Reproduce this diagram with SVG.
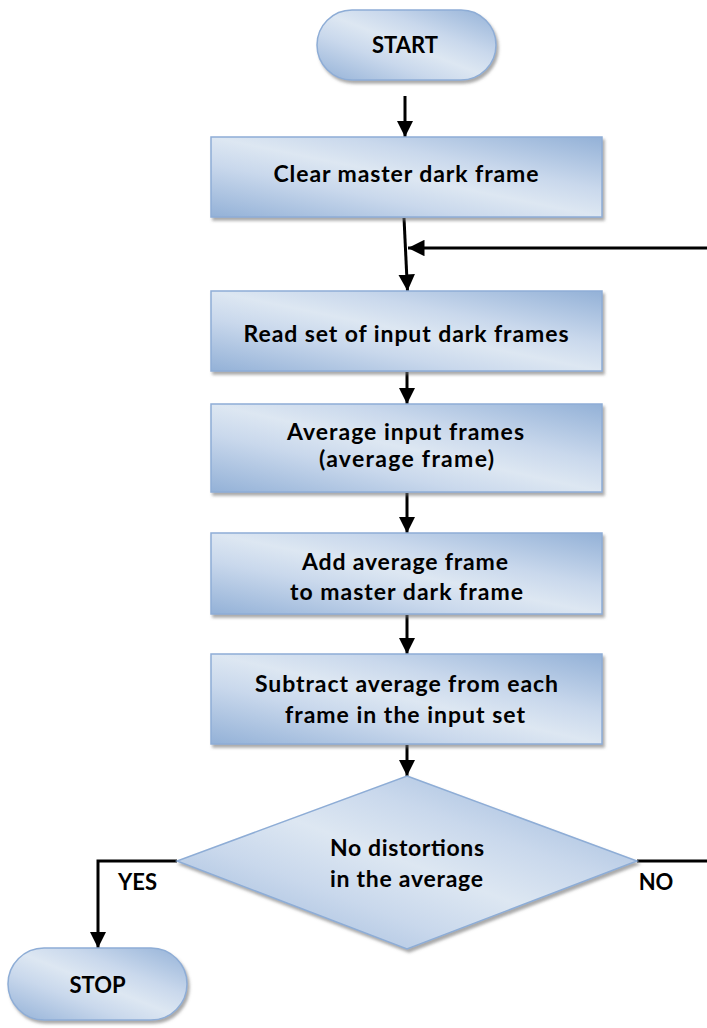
<svg xmlns="http://www.w3.org/2000/svg" width="707" height="1028" viewBox="0 0 707 1028">
<style>
.shape{stroke:#8eadd6;stroke-width:1.5;fill:url(#g);filter:url(#sh)}
.t{font-family:Lato,"Liberation Sans",sans-serif;font-weight:bold;font-size:23px;fill:#000;text-anchor:middle}
.s{font-size:22px}
.c{stroke:#000;stroke-width:3;fill:none}
.ca{stroke:#000;stroke-width:3;fill:none;marker-end:url(#ah)}
</style>
<defs>
<linearGradient id="g" x1="1" y1="0" x2="0" y2="1">
<stop offset="0" stop-color="#93b1d7"/>
<stop offset="0.33" stop-color="#c9d8ec"/>
<stop offset="0.5" stop-color="#dde7f2"/>
<stop offset="0.67" stop-color="#c9d8ec"/>
<stop offset="1" stop-color="#93b1d7"/>
</linearGradient>
<filter id="sh" x="-10%" y="-10%" width="120%" height="130%">
<feDropShadow dx="2" dy="3" stdDeviation="1.5" flood-color="#6f6f6f" flood-opacity="0.6"/>
</filter>
<marker id="ah" viewBox="0 0 10 10" refX="10" refY="5" markerWidth="5.5" markerHeight="5.5" orient="auto" markerUnits="strokeWidth">
<path d="M0,0 L10,5 L0,10 Z" fill="#000"/>
</marker>
</defs>
<g id="connectors">
<line class="ca" x1="405" y1="96" x2="405" y2="137"/>
<line class="ca" x1="404" y1="218" x2="407.5" y2="291"/>
<line class="ca" x1="707" y1="248" x2="408" y2="248"/>
<line class="ca" x1="407" y1="372" x2="407" y2="404"/>
<line class="ca" x1="407" y1="493" x2="407" y2="533"/>
<line class="ca" x1="407" y1="615" x2="407" y2="654"/>
<line class="ca" x1="407" y1="745" x2="407" y2="776"/>
<polyline class="ca" points="177,861 98,861 98,948"/>
<line class="c" x1="637" y1="861" x2="707" y2="861"/>
<text class="t s" x="137.5" y="890">YES</text>
<text class="t s" x="656" y="890">NO</text>
</g>
<g id="start">
<rect class="shape" x="317" y="10" width="179" height="70" rx="35" ry="35"/>
<text class="t s" x="405" y="53">START</text>
</g>
<g id="clear">
<rect class="shape" x="211" y="137" width="391" height="80"/>
<text class="t" x="406" y="182" textLength="265">Clear master dark frame</text>
</g>
<g id="read">
<rect class="shape" x="211" y="291" width="391" height="80"/>
<text class="t" x="406" y="342" textLength="325">Read set of input dark frames</text>
</g>
<g id="average">
<rect class="shape" x="211" y="404" width="391" height="88"/>
<text class="t" x="405.5" y="440" textLength="237">Average input frames</text>
<text class="t" x="406.5" y="467" textLength="175">(average frame)</text>
</g>
<g id="add">
<rect class="shape" x="211" y="533" width="391" height="81"/>
<text class="t" x="405" y="570" textLength="206">Add average frame</text>
<text class="t" x="406.5" y="600" textLength="233">to master dark frame</text>
</g>
<g id="subtract">
<rect class="shape" x="211" y="654" width="391" height="90"/>
<text class="t" x="406.5" y="692" textLength="303">Subtract average from each</text>
<text class="t" x="405" y="723" textLength="240">frame in the input set</text>
</g>
<g id="decision">
<polygon class="shape" points="407,776 637,861 407,949 177,861"/>
<text class="t" x="407" y="856" textLength="154">No distortions</text>
<text class="t" x="406.5" y="887" textLength="153">in the average</text>
</g>
<g id="stop">
<rect class="shape" x="8" y="948" width="179" height="72" rx="36" ry="36"/>
<text class="t s" x="97.5" y="993">STOP</text>
</g>
</svg>
